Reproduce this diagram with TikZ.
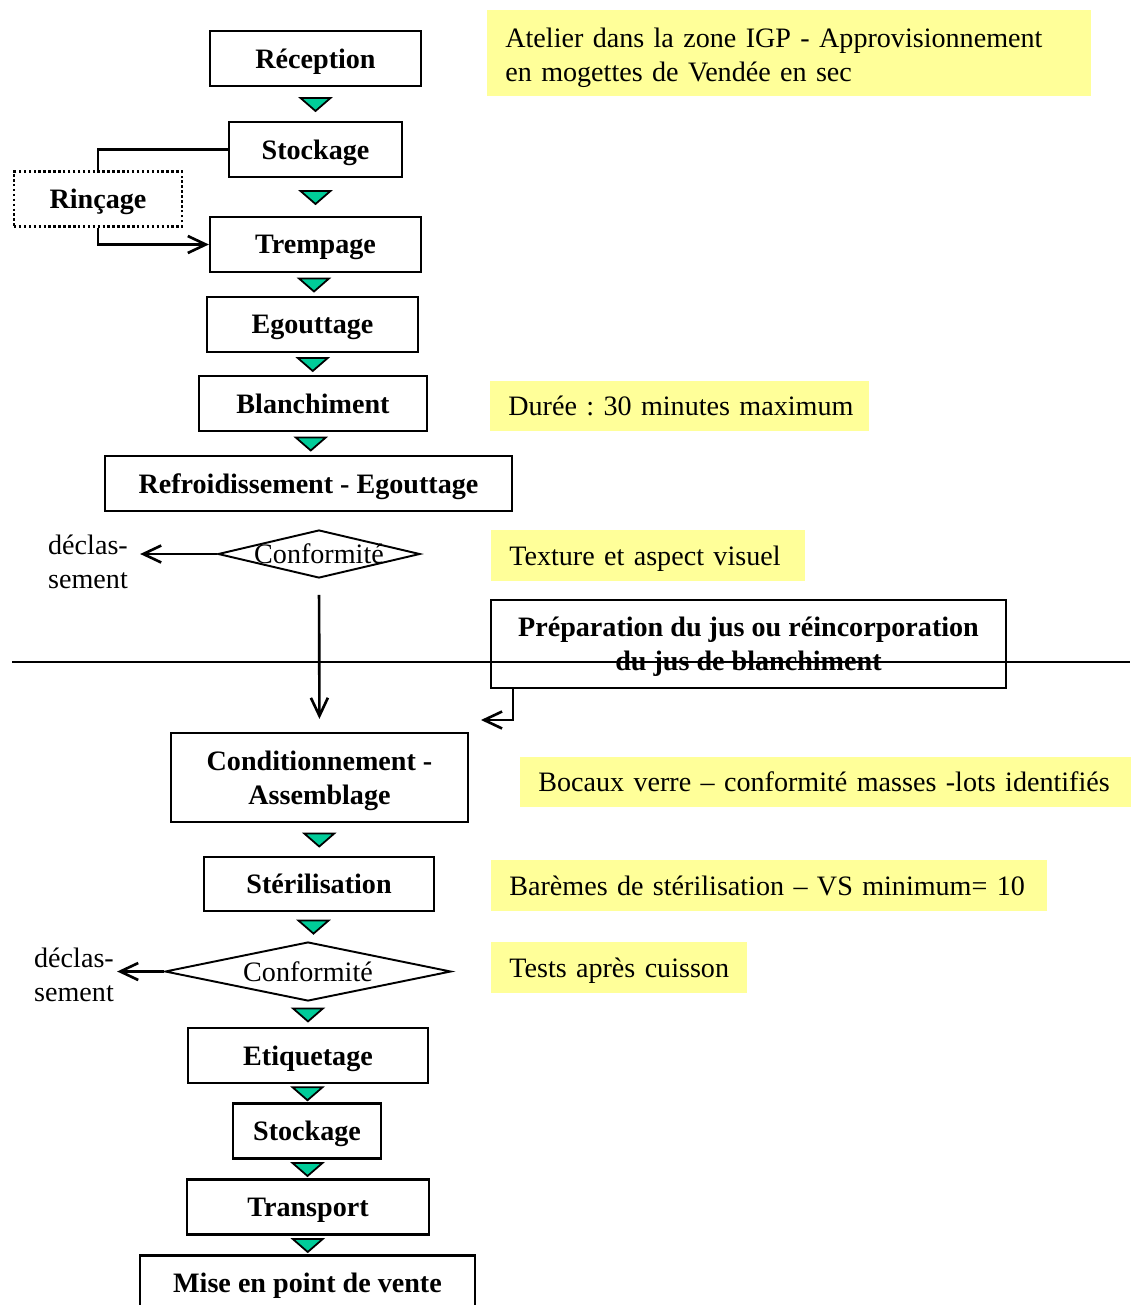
\documentclass[tikz,border=0pt]{standalone}
\usepackage{fontspec}
\setmainfont{Liberation Serif}
\usepackage{tikz}
\usepackage{xcolor}
\usetikzlibrary{shapes.geometric}
\usetikzlibrary{arrows.meta}
\usetikzlibrary{calc}
\definecolor{noteyellow}{RGB}{255,255,153}
\definecolor{trigreen}{RGB}{0,204,153}
\frenchspacing
\begin{document}
\begin{tikzpicture}[x=0.02cm,y=-0.02cm,
  font=\fontsize{16}{19.3}\selectfont,
  >={Straight Barb[length=3.6mm,width=3.4mm,line width=1.5pt]},
  box/.style={draw,line width=1.3pt,fill=white,minimum height=1.1cm,align=center,
    text depth=0pt,font=\fontsize{16}{19.3}\selectfont\bfseries},
  rinbox/.style={box,dash pattern=on 1.4pt off 1.4pt},
  diam/.style={draw,diamond,line width=1.1pt,inner sep=0pt},
  note/.style={fill=noteyellow,anchor=west,inner xsep=0.36cm,align=left,text depth=0pt},
  tri/.style={fill=trigreen,draw=black,line width=1pt,line join=miter},
  arr/.style={->,line width=1.5pt},
  line/.style={line width=1.5pt}]
  \useasboundingbox (0,0) rectangle (1130,1305);

  \node[box,minimum width=4.22cm] (rec) at (315.5,58.5) {Réception};
  \node[box,minimum width=3.46cm] (sto1) at (315.5,149.5) {Stockage};
  \node[rinbox,minimum width=3.36cm] (rin) at (98,199) {Rinçage};
  \node[box,minimum width=4.22cm] (tre) at (315.5,244.5) {Trempage};
  \node[box,minimum width=4.22cm] (ego) at (312.5,324.5) {Egouttage};
  \node[box,minimum width=4.56cm] (bla) at (313,403.5) {Blanchiment};
  \node[box,minimum width=8.14cm] (ref) at (308.5,483.5) {Refroidissement - Egouttage};
  \node[diam,minimum width=4.04cm,minimum height=0.96cm] (c1) at (319,554) {};
  \node[text depth=0pt] (c1t) at (c1) {Conformité};
  \node[align=left,inner sep=0.24cm] (dec1) at (88,562) {déclas-\\sement};
  \node[box,minimum width=10.3cm,minimum height=1.76cm] (prep) at (748.5,644)
    {Préparation du jus ou réincorporation\\du jus de blanchiment};
  \node[box,minimum width=5.94cm,minimum height=1.78cm] (cond) at (319.5,777.5)
    {Conditionnement -\\Assemblage};
  \node[box,minimum width=4.6cm,minimum height=1.08cm] (ste) at (319,884) {Stérilisation};
  \node[diam,minimum width=5.72cm,minimum height=1.18cm] (c2) at (308,971.5) {};
  \node[text depth=0pt] (c2t) at (c2) {Conformité};
  \node[align=left,inner sep=0.06cm] (dec2) at (74,975) {déclas-\\sement};
  \node[box,minimum width=4.8cm] (eti) at (308,1055.5) {Etiquetage};
  \node[box,minimum width=2.96cm] (sto2) at (307,1131) {Stockage};
  \node[box,minimum width=4.84cm] (tra) at (308,1207) {Transport};
  \node[box,minimum width=6.7cm] (mis) at (307.5,1283) {Mise en point de vente};

  \node[note,text width=11.36cm,minimum height=1.72cm,text depth=17pt] (n1) at (487,53)
    {\mbox{Atelier dans la zone IGP - Approvisionnement}\\\mbox{en mogettes de Vendée en sec}};
  \node[note,text width=6.86cm,minimum height=1cm] (n2) at (490,406)
    {\mbox{Durée : 30 minutes maximum}};
  \node[note,text width=5.56cm,minimum height=1.02cm] (n3) at (491,555.5)
    {\mbox{Texture et aspect visuel}};
  \node[note,text width=11.6cm,minimum height=1cm] (n4) at (520,782)
    {\mbox{Bocaux verre – conformité masses -lots identifiés}};
  \node[note,text width=10.4cm,minimum height=1.02cm] (n5) at (491,885.5)
    {\mbox{Barèmes de stérilisation – VS minimum= 10}};
  \node[note,text width=4.4cm,minimum height=1.02cm] (n6) at (491,967.5)
    {\mbox{Tests après cuisson}};

  \foreach \a/\b in {rec/sto1,sto1/tre,tre/ego,ego/bla,bla/ref,cond/ste,ste/c2,
      c2/eti,eti/sto2,sto2/tra,tra/mis}
    \draw[tri] ($(\a.south)!.5!(\b.north)$) ++(-15,-6) -- ++(30,0) -- ++(-15,13) -- cycle;

  \draw[line] (sto1.west) -| (rin.north);
  \draw[arr] (rin.south) |- (tre.west);
  \draw[arr] (c1.west) -- (c1.west -| dec1.east);
  \draw[arr,shorten <=0.32cm,shorten >=0.26cm] (c1.south) -- (cond.north);
  \coordinate (prepin) at (481,720);
  \draw[arr] ([xshift=0.46cm]prep.south west) |- (prepin);
  \draw[arr] (c2.west) -- (c2.west -| dec2.east);
  \draw[line width=1.1pt] (12,662) -- (1130,662);
\end{tikzpicture}
\end{document}
